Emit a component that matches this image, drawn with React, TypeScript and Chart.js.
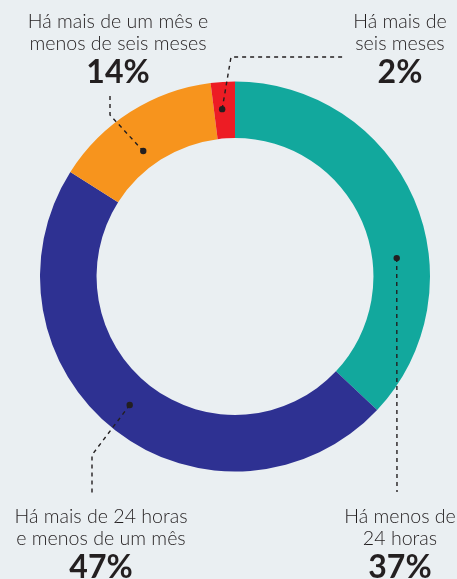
import React, { useEffect, useRef } from "react";
import { Chart, registerables } from "chart.js";

Chart.register(...registerables);

const categories = [
  "Há menos de 24 horas",
  "Há mais de 24 horas e menos de um mês",
  "Há mais de um mês e menos de seis meses",
  "Há mais de seis meses",
];
const values = [37, 47, 14, 2];
const colors = ["#12a89d", "#2e3192", "#f7941d", "#ed1c24"];
const labelLines = [
  ["Há menos de", "24 horas"],
  ["Há mais de 24 horas", "e menos de um mês"],
  ["Há mais de um mês e", "menos de seis meses"],
  ["Há mais de", "seis meses"],
];

const BG = "#eaeff2";
const INK = "#231f20";

// label block placement (centre x, top of first line)
const labelPos = [
  { x: 400, top: 505 },
  { x: 101, top: 505 },
  { x: 118, top: 10 },
  { x: 400, top: 10 },
];

// leader routes: dot position within arc (angle fraction, radial fraction) then polyline points
const leaders = [
  { af: 0.627, rf: 0.43, pts: [[397, 492]] },
  { af: 0.509, rf: 0.49, pts: [[92, 455], [92, 493]] },
  { af: 0.425, rf: 0.3, pts: [[110, 115], [110, 93]] },
  { af: 0.39, rf: 0.52, pts: [[231, 57], [343, 57]] },
];

const leaderPlugin = {
  id: "leaders",
  afterDatasetsDraw(chart: any) {
    const ctx = chart.ctx;
    const meta = chart.getDatasetMeta(0);
    meta.data.forEach((arc: any, i: number) => {
      const p = arc.getProps(["x", "y", "startAngle", "endAngle", "innerRadius", "outerRadius"], true);
      const L = leaders[i];
      const a = p.startAngle + L.af * (p.endAngle - p.startAngle);
      const r = p.innerRadius + L.rf * (p.outerRadius - p.innerRadius);
      const dx = p.x + Math.cos(a) * r;
      const dy = p.y + Math.sin(a) * r;
      ctx.save();
      ctx.strokeStyle = INK;
      ctx.lineWidth = 1.4;
      ctx.setLineDash([4, 4]);
      ctx.beginPath();
      ctx.moveTo(dx, dy);
      L.pts.forEach((q) => ctx.lineTo(q[0], q[1]));
      ctx.stroke();
      ctx.setLineDash([]);
      ctx.fillStyle = INK;
      ctx.beginPath();
      ctx.arc(dx, dy, 3.2, 0, Math.PI * 2);
      ctx.fill();
      ctx.restore();
    });
  },
};

export default function App() {
  const ref = useRef<HTMLCanvasElement>(null);
  useEffect(() => {
    document.body.style.margin = "0";
    document.body.style.background = BG;
    const chart = new Chart(ref.current!, {
      type: "doughnut",
      data: {
        labels: categories,
        datasets: [
          {
            data: values,
            backgroundColor: colors,
            borderWidth: 0,
          },
        ],
      },
      options: {
        animation: false,
        responsive: false,
        cutout: "71%",
        layout: { padding: { left: 40, right: 27, top: 81.5, bottom: 107.5 } },
        plugins: { legend: { display: false }, tooltip: { enabled: false } },
      },
      plugins: [leaderPlugin],
    });
    return () => chart.destroy();
  }, []);

  const font = "Lato, 'Open Sans', sans-serif";
  return (
    <div style={{ position: "absolute", left: 0, top: 0, width: 457, height: 579, background: BG, overflow: "hidden" }}>
      <canvas ref={ref} width={457} height={579} style={{ position: "absolute", left: 0, top: 0 }} />
      {categories.map((c, i) => (
        <div
          key={c}
          style={{
            position: "absolute",
            left: labelPos[i].x,
            top: labelPos[i].top,
            transform: "translateX(-50%)",
            textAlign: "center",
            color: INK,
            fontFamily: font,
            whiteSpace: "nowrap",
          }}
        >
          <div style={{ fontSize: 19.6, lineHeight: "22px", fontWeight: 300 }}>{labelLines[i][0]}</div>
          <div style={{ fontSize: 19.6, lineHeight: "22px", fontWeight: 300 }}>{labelLines[i][1]}</div>
          <div style={{ fontSize: 32, lineHeight: "34px", fontWeight: 700 }}>{values[i]}%</div>
        </div>
      ))}
    </div>
  );
}
